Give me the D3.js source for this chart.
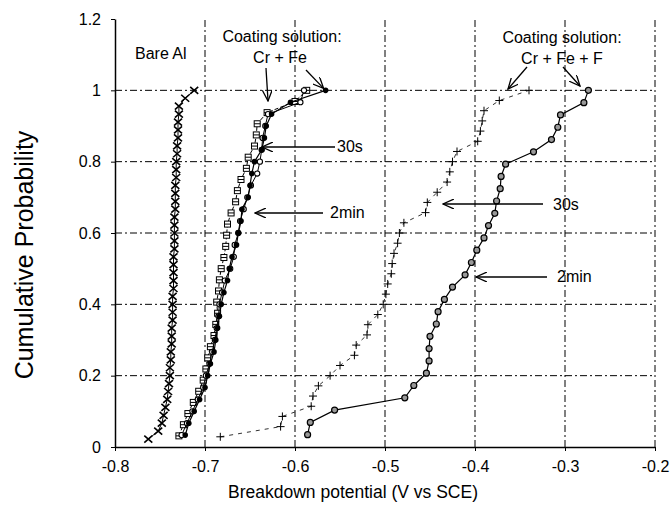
<!DOCTYPE html>
<html>
<head>
<meta charset="utf-8">
<script src="https://cdn.jsdelivr.net/npm/d3@7"></script>
<style>
  body { margin: 0; background: #fff; }
  svg text { font-family: "Liberation Sans", Arial, sans-serif; fill: #000; }
</style>
</head>
<body>
<svg id="chart" width="672" height="512"></svg>
<script>
// Breakdown potentials (V vs SCE), sorted; cumulative probability is rank / n
var bareAlX = [-0.763, -0.752, -0.748, -0.746, -0.744, -0.742, -0.741, -0.740, -0.739, -0.739,
               -0.738, -0.738, -0.737, -0.737, -0.737, -0.736, -0.736, -0.736, -0.736, -0.735,
               -0.735, -0.735, -0.735, -0.735, -0.734, -0.734, -0.734, -0.734, -0.734, -0.733,
               -0.733, -0.733, -0.733, -0.732, -0.732, -0.732, -0.731, -0.731, -0.730, -0.730,
               -0.730, -0.729, -0.729, -0.722, -0.712];

var crFeSquareX = [-0.729, -0.724, -0.719, -0.713, -0.707, -0.702, -0.699, -0.697, -0.694, -0.690,
                   -0.688, -0.686, -0.687, -0.685, -0.684, -0.682, -0.679, -0.677, -0.676, -0.675,
                   -0.671, -0.666, -0.664, -0.660, -0.654, -0.652, -0.645, -0.643, -0.642, -0.631,
                   -0.600, -0.587];

var crFeDotX = [-0.722, -0.718, -0.712, -0.706, -0.700, -0.697, -0.694, -0.690, -0.688, -0.686,
                -0.684, -0.682, -0.679, -0.675, -0.673, -0.670, -0.665, -0.663, -0.660, -0.659,
                -0.652, -0.650, -0.648, -0.645, -0.637, -0.634, -0.632, -0.626, -0.605, -0.566];

var crFeCircleX = [-0.726, -0.720, -0.714, -0.708, -0.702, -0.699, -0.695, -0.692, -0.689, -0.687,
                   -0.685, -0.684, -0.681, -0.678, -0.672, -0.668, -0.667, -0.663, -0.661, -0.657,
                   -0.653, -0.649, -0.642, -0.639, -0.637, -0.636, -0.633, -0.630, -0.594, -0.590];

var crFeF30sX = [-0.683, -0.616, -0.614, -0.582, -0.580, -0.574, -0.561, -0.550, -0.534, -0.532,
                 -0.520, -0.519, -0.508, -0.502, -0.499, -0.497, -0.493, -0.492, -0.490, -0.486,
                 -0.484, -0.479, -0.455, -0.453, -0.442, -0.431, -0.428, -0.425, -0.420, -0.397,
                 -0.394, -0.392, -0.390, -0.373, -0.340];

var crFeF2minX = [-0.586, -0.583, -0.556, -0.478, -0.468, -0.454, -0.451, -0.451, -0.450, -0.443,
                  -0.441, -0.434, -0.425, -0.411, -0.404, -0.398, -0.390, -0.385, -0.378, -0.376,
                  -0.372, -0.371, -0.366, -0.335, -0.315, -0.308, -0.305, -0.279, -0.274];

var xTicks = [-0.8, -0.7, -0.6, -0.5, -0.4, -0.3, -0.2];
var yTicks = [0, 0.2, 0.4, 0.6, 0.8, 1, 1.2];

function toPoints(xs){
    return xs.map(function(v, i){ return { x: v, p: (i + 1) / xs.length }; });
}

var svg = d3.select("#chart");
var x = d3.scaleLinear().domain([-0.8, -0.2]).range([115, 655]);
var y = d3.scaleLinear().domain([0, 1.2]).range([447, 19]);

// Arrow head (open V)
svg.append("defs").append("marker")
   .attr("id", "vhead")
   .attr("viewBox", "0 0 12 10")
   .attr("refX", 11).attr("refY", 5)
   .attr("markerWidth", 12).attr("markerHeight", 10)
   .attr("markerUnits", "userSpaceOnUse")
   .attr("orient", "auto")
   .append("path")
   .attr("d", "M0,0 L11,5 L0,10")
   .attr("fill", "none").attr("stroke", "#000").attr("stroke-width", 1.3);

// Grid (dash-dot)
var grid = svg.append("g").attr("stroke", "#000").attr("stroke-width", 1).attr("stroke-dasharray", "7,3,2,3");
grid.selectAll(".hgrid").data(yTicks.filter(function(d){ return d > 0 && d < 1.2; }))
    .enter().append("line")
    .attr("x1", x(-0.8)).attr("x2", x(-0.2))
    .attr("y1", function(d){ return y(d); }).attr("y2", function(d){ return y(d); });
grid.selectAll(".vgrid").data(xTicks.filter(function(d){ return d > -0.8; }))
    .enter().append("line")
    .attr("y1", y(0)).attr("y2", y(1.2))
    .attr("x1", function(d){ return x(d); }).attr("x2", function(d){ return x(d); });

// Axes
var xAxis = svg.append("g").attr("transform", "translate(0," + y(0) + ")")
    .call(d3.axisBottom(x).tickValues(xTicks).tickSize(4).tickSizeOuter(0)
            .tickFormat(function(d){ return d3.format(".1f")(d).replace("\u2212", "-"); }));
var yAxis = svg.append("g").attr("transform", "translate(" + x(-0.8) + ",0)")
    .call(d3.axisLeft(y).tickValues(yTicks).tickSize(4).tickSizeOuter(0)
            .tickFormat(function(d){ return d === 0 || d === 1 ? String(d) : d3.format(".1f")(d); }));
[xAxis, yAxis].forEach(function(a){
    a.select(".domain").attr("stroke", "#000").attr("stroke-width", 1.5);
    a.selectAll(".tick line").attr("stroke", "#000");
    a.selectAll(".tick text").style("font-size", "16px").attr("fill", "#000");
});
xAxis.selectAll(".tick text").attr("dy", "1.1em");
yAxis.selectAll(".tick text").attr("x", -14);

// Axis titles
svg.append("text").attr("x", 353).attr("y", 498).attr("text-anchor", "middle")
   .style("font-size", "17.5px").text("Breakdown potential (V vs SCE)");
svg.append("text").attr("transform", "translate(33,255) rotate(-90)").attr("text-anchor", "middle")
   .style("font-size", "25px").text("Cumulative Probability");

var line = d3.line().x(function(d){ return x(d.x); }).y(function(d){ return y(d.p); });

function drawSeries(xs, lineStyle, markerFn){
    var pts = toPoints(xs);
    var g = svg.append("g");
    g.append("path").datum(pts).attr("d", line).attr("fill", "none")
     .attr("stroke", lineStyle.stroke).attr("stroke-width", lineStyle.width)
     .attr("stroke-dasharray", lineStyle.dash || null);
    pts.forEach(function(d){ markerFn(g, x(d.x), y(d.p)); });
}

function crossMark(g, cx, cy){
    g.append("path").attr("d", "M" + (cx - 4) + "," + (cy - 3.5) + "L" + (cx + 4) + "," + (cy + 3.5) +
                               "M" + (cx - 4) + "," + (cy + 3.5) + "L" + (cx + 4) + "," + (cy - 3.5))
     .attr("stroke", "#000").attr("stroke-width", 1.6);
}
function plusMark(g, cx, cy){
    g.append("path").attr("d", "M" + (cx - 4) + "," + cy + "L" + (cx + 4) + "," + cy +
                               "M" + cx + "," + (cy - 4) + "L" + cx + "," + (cy + 4))
     .attr("stroke", "#000").attr("stroke-width", 1);
}
function squareMark(g, cx, cy){
    g.append("rect").attr("x", cx - 3).attr("y", cy - 3).attr("width", 6).attr("height", 6)
     .attr("fill", "#fff").attr("stroke", "#000").attr("stroke-width", 1);
    g.append("line").attr("x1", cx - 3).attr("x2", cx + 3).attr("y1", cy).attr("y2", cy)
     .attr("stroke", "#000").attr("stroke-width", 1);
}
function dotMark(g, cx, cy){
    g.append("circle").attr("cx", cx).attr("cy", cy).attr("r", 2.8).attr("fill", "#000");
}
function ringMark(g, cx, cy){
    g.append("circle").attr("cx", cx).attr("cy", cy).attr("r", 2.6)
     .attr("fill", "#fff").attr("stroke", "#000").attr("stroke-width", 1.1);
}
function dottedRingMark(g, cx, cy){
    g.append("circle").attr("cx", cx).attr("cy", cy).attr("r", 3)
     .attr("fill", "#999").attr("stroke", "#000").attr("stroke-width", 1.2);
}

drawSeries(bareAlX, { stroke: "#000", width: 1 }, crossMark);
drawSeries(crFeSquareX, { stroke: "#000", width: 1, dash: "4,2" }, squareMark);
drawSeries(crFeCircleX, { stroke: "#000", width: 1 }, ringMark);
drawSeries(crFeDotX, { stroke: "#000", width: 1.2 }, dotMark);
drawSeries(crFeF30sX, { stroke: "#333", width: 1, dash: "4,5" }, plusMark);
drawSeries(crFeF2minX, { stroke: "#000", width: 1.2 }, dottedRingMark);

// Annotations
function label(txt, lx, ly, anchor){
    svg.append("text").attr("x", lx).attr("y", ly).attr("text-anchor", anchor || "start")
       .style("font-size", "16px").text(txt);
}
label("Bare Al", 135, 59);
label("Coating solution:", 282, 42, "middle");
label("Cr + Fe", 280, 63, "middle");
label("Coating solution:", 562, 43, "middle");
label("Cr + Fe + F", 562, 64, "middle");
label("30s", 337, 152);
label("2min", 330, 218);
label("30s", 553, 210);
label("2min", 557, 282);

var arrows = [
    [266, 68, 268, 101],
    [306, 70, x(-0.566) - 2, y(1) - 2],
    [527, 67, 508, 89],
    [563, 67, 580, 86],
    [335, 147, 262, 147],
    [323, 213, 255, 213],
    [543, 204, 443, 204],
    [547, 277, 476, 277]
];
svg.append("g").selectAll("line").data(arrows).enter().append("line")
   .attr("x1", function(d){ return d[0]; }).attr("y1", function(d){ return d[1]; })
   .attr("x2", function(d){ return d[2]; }).attr("y2", function(d){ return d[3]; })
   .attr("stroke", "#000").attr("stroke-width", 1.3)
   .attr("marker-end", "url(#vhead)");
</script>
</body>
</html>
